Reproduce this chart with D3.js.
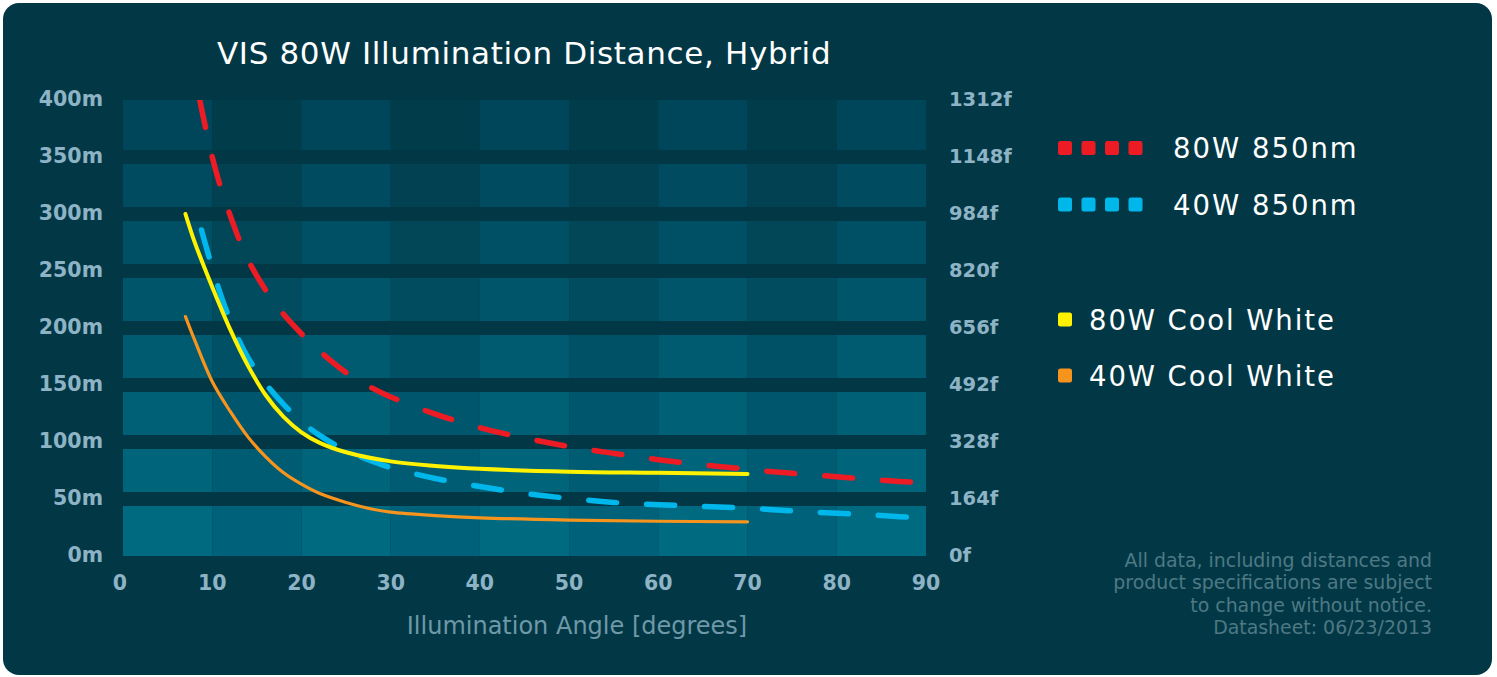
<!DOCTYPE html>
<html>
<head>
<meta charset="utf-8">
<script src="https://cdn.jsdelivr.net/npm/d3@7"></script>
<style>
  html, body { margin: 0; padding: 0; background: #ffffff; }
  svg { display: block; }
  text { font-family: "DejaVu Sans", "Noto Sans", sans-serif; }
</style>
</head>
<body>
<svg id="chart" width="1497" height="677"></svg>
<script>
// ---------- data ----------
const title = "VIS 80W Illumination Distance, Hybrid";
const xTicks = [0, 10, 20, 30, 40, 50, 60, 70, 80, 90];
const yTicks = [0, 50, 100, 150, 200, 250, 300, 350, 400];
const yTickLabels = ["0m", "50m", "100m", "150m", "200m", "250m", "300m", "350m", "400m"];
const yRightLabels = ["0f", "164f", "328f", "492f", "656f", "820f", "984f", "1148f", "1312f"];
const xTitle = "Illumination Angle [degrees]";

const red80Angle = [8.6, 9, 10, 11, 12, 13, 14, 16, 18, 20, 22, 25, 28, 30, 35, 40, 45, 50, 55, 60, 65, 70, 75, 80, 85, 90];
const red80Dist  = [400, 385, 350, 322, 299, 278, 260, 233, 212, 195, 180, 161, 147, 139.5, 124.5, 112.5, 103.5, 96, 90, 84.5, 80, 76, 72.5, 69.5, 66.5, 64];

const blue40Angle = [8.8, 9, 10, 11, 12, 13, 14, 15, 16, 18, 20, 22, 25, 28, 30, 35, 40, 45, 50, 55, 60, 65, 70, 75, 80, 85, 90];
const blue40Dist  = [286, 280, 253, 228, 207, 189, 174, 162, 151, 133, 118, 106, 92.5, 83, 77.5, 68, 61, 55, 50.5, 47, 45, 43.5, 42, 39.5, 37.5, 35.5, 33];

const yellow80Angle = [7, 8, 10, 12, 14, 16, 18, 20, 22, 25, 30, 35, 40, 50, 60, 70];
const yellow80Dist  = [300, 276, 236, 199, 167, 141, 122, 108.5, 99.5, 91, 83, 79, 76.5, 74, 73, 72];

const orange40Angle = [7, 8, 10, 12, 14, 16, 18, 20, 22, 25, 28, 30, 35, 40, 50, 60, 70];
const orange40Dist  = [210, 190, 153, 127, 104.5, 87, 73, 63, 55, 47, 41, 38.5, 35.5, 33.5, 31.5, 30.5, 30];

const legendLabels = ["80W 850nm", "40W 850nm", "80W Cool White", "40W Cool White"];
const footnote = ["All data, including distances and", "product specifications are subject", "to change without notice.", "Datasheet: 06/23/2013"];

// ---------- style ----------
const BG = "#023846";
const colors = { red: "#ed1c24", blue: "#00b7ec", yellow: "#fff200", orange: "#f7941d" };
const axisColor = "#8db3c5";

const svg = d3.select("#chart");

svg.append("rect").attr("x", 3).attr("y", 3).attr("width", 1489).attr("height", 672)
  .attr("rx", 16).attr("ry", 16).attr("fill", BG);

const x = d3.scaleLinear().domain([0, 90]).range([123, 926]);
const y = d3.scaleLinear().domain([0, 400]).range([556, 100]);

// ---------- background cells ----------
const lightTop = "#00465a", lightBot = "#006a80";
const darkTop = "#013c4b", darkBot = "#00617a";
const cells = [];
for (let i = 0; i < 9; i++) {
  for (let j = 0; j < 8; j++) cells.push({ i, j });
}
const g = svg.append("g");
g.selectAll("rect.cell").data(cells).enter().append("rect")
  .attr("class", "cell")
  .attr("x", d => x(d.i * 10))
  .attr("width", d => x(d.i * 10 + 10) - x(d.i * 10))
  .attr("y", d => y(d.j * 50 + 50))
  .attr("height", d => y(d.j * 50) - y(d.j * 50 + 50))
  .attr("fill", d => {
    const t = d.j / 7;
    return d.i % 2 === 0 ? d3.interpolateRgb(lightBot, lightTop)(t) : d3.interpolateRgb(darkBot, darkTop)(t);
  });

// thick grid strips
g.selectAll("line.grid").data(yTicks.slice(1, -1)).enter().append("line")
  .attr("class", "grid")
  .attr("x1", x(0)).attr("x2", x(90))
  .attr("y1", d => y(d)).attr("y2", d => y(d))
  .attr("stroke", BG).attr("stroke-width", 14);

// ---------- axes labels ----------
svg.append("g").selectAll("text").data(yTicks).enter().append("text")
  .attr("x", 103).attr("y", d => y(d) - 1)
  .attr("text-anchor", "end").attr("dominant-baseline", "central")
  .attr("font-size", 20.5).attr("font-weight", 700).attr("fill", axisColor)
  .text((d, i) => yTickLabels[i]);

svg.append("g").selectAll("text").data(yTicks).enter().append("text")
  .attr("x", 949).attr("y", d => y(d) - 1)
  .attr("text-anchor", "start").attr("dominant-baseline", "central")
  .attr("font-size", 19.5).attr("font-weight", 700).attr("fill", axisColor)
  .text((d, i) => yRightLabels[i]);

svg.append("g").selectAll("text").data(xTicks).enter().append("text")
  .attr("x", d => x(d) - (d === 0 ? 3 : 0)).attr("y", 590)
  .attr("text-anchor", "middle")
  .attr("font-size", 20.5).attr("font-weight", 700).attr("fill", axisColor)
  .text(d => d);

svg.append("text").attr("x", 577).attr("y", 634).attr("text-anchor", "middle")
  .attr("font-size", 24).attr("fill", "#6f98a8").text(xTitle);

svg.append("text").attr("x", 217).attr("y", 64).attr("text-anchor", "start")
  .attr("font-size", 31).attr("letter-spacing", 0.65).attr("fill", "#ffffff").text(title);

// ---------- lines ----------
svg.append("clipPath").attr("id", "plotclip").append("rect")
  .attr("x", x(0)).attr("y", y(400)).attr("width", x(90) - x(0)).attr("height", y(0) - y(400));

const line = d3.line().x(d => x(d[0])).y(d => y(d[1])).curve(d3.curveCatmullRom.alpha(0.5));
const lg = svg.append("g").attr("clip-path", "url(#plotclip)");

const series = [
  { a: red80Angle, v: red80Dist, color: colors.red, w: 5.5, dash: "28,30" },
  { a: blue40Angle, v: blue40Dist, color: colors.blue, w: 5.5, dash: "28,30" },
  { a: orange40Angle, v: orange40Dist, color: colors.orange, w: 3.2, dash: null },
  { a: yellow80Angle, v: yellow80Dist, color: colors.yellow, w: 4, dash: null }
];
series.forEach(s => {
  lg.append("path")
    .datum(s.a.map((a, k) => [a, s.v[k]]))
    .attr("d", line)
    .attr("fill", "none")
    .attr("stroke", s.color)
    .attr("stroke-width", s.w)
    .attr("stroke-linecap", "round")
    .attr("stroke-linejoin", "round")
    .attr("stroke-dasharray", s.dash);
});

// ---------- legend ----------
const leg = svg.append("g");
const dashLegend = [
  { label: legendLabels[0], color: colors.red, cy: 148, tx: 1173 },
  { label: legendLabels[1], color: colors.blue, cy: 204.5, tx: 1173 }
];
dashLegend.forEach(d => {
  [1058, 1081.5, 1105, 1128.5].forEach(sx => {
    leg.append("rect").attr("x", sx).attr("y", d.cy - 7).attr("width", 14).attr("height", 14)
      .attr("rx", 2.5).attr("fill", d.color);
  });
  leg.append("text").attr("x", d.tx).attr("y", d.cy).attr("dominant-baseline", "central")
    .attr("font-size", 27.5).attr("letter-spacing", 2).attr("fill", "#ffffff").text(d.label);
});
const solidLegend = [
  { label: legendLabels[2], color: colors.yellow, cy: 319.5 },
  { label: legendLabels[3], color: colors.orange, cy: 375.5 }
];
solidLegend.forEach(d => {
  leg.append("rect").attr("x", 1058).attr("y", d.cy - 7).attr("width", 14).attr("height", 14)
    .attr("rx", 2.5).attr("fill", d.color);
  leg.append("text").attr("x", 1089).attr("y", d.cy).attr("dominant-baseline", "central")
    .attr("font-size", 27.5).attr("letter-spacing", 1.9).attr("fill", "#ffffff").text(d.label);
});

// ---------- footnote ----------
svg.append("g").selectAll("text").data(footnote).enter().append("text")
  .attr("x", 1432).attr("y", (d, i) => 567 + i * 22.3)
  .attr("text-anchor", "end").attr("font-size", 18.9).attr("fill", "#4e7984")
  .text(d => d);
</script>
</body>
</html>
